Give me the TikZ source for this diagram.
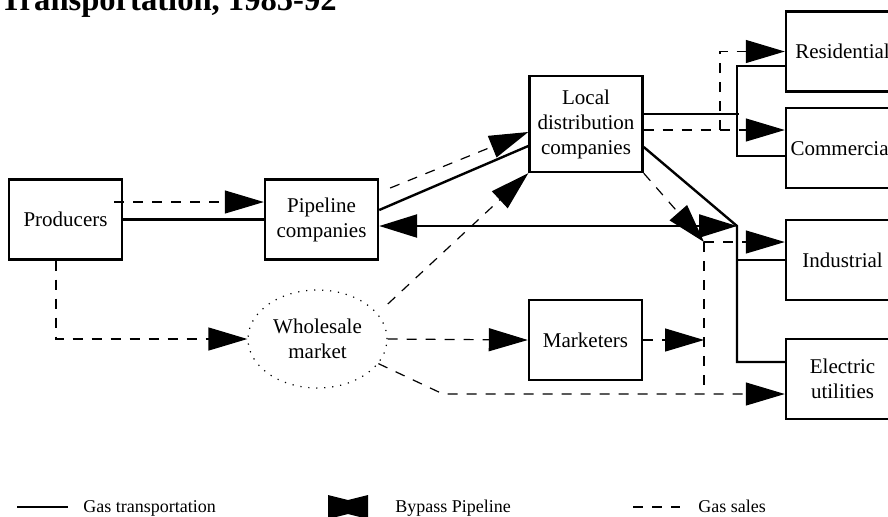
\documentclass[tikz,border=0pt]{standalone}
\usepackage{fontspec}
\setmainfont{Liberation Serif}
\usetikzlibrary{arrows.meta, shapes.geometric}

\tikzset{
  firm/.style={draw, line width=1.2pt, minimum width=56.5pt, minimum height=40pt, inner sep=0pt, align=center, font=\fontsize{10.5}{12.5}\selectfont},
  trans/.style={line width=1.2pt},
  sale/.style={line width=0.6pt, dash pattern=on 5pt off 4.5pt},
  salehead/.style={-{Triangle[length=19.5pt,width=11.5pt]}},
  legtext/.style={anchor=base west, inner sep=0pt, font=\fontsize{9}{11}\selectfont}
}

\begin{document}
\begin{tikzpicture}[x=0.5pt, y=-0.5pt]
\useasboundingbox (0,0) rectangle (888,516);
\node[anchor=base west, inner sep=0pt, font=\fontsize{16.3}{19}\selectfont\bfseries] (title) at (0,10) {Transportation, 1985-92};

\node[firm] (prod) at (65.5,219.5) {Producers};
\node[firm] (pipe) at (321.5,219.5) {Pipeline\\companies};
\node[firm, minimum height=48pt] (ldc) at (586,124) {Local\\distribution\\companies};
\node[draw, ellipse, line width=0.6pt, dash pattern=on 0.6pt off 3.4pt, minimum width=69.5pt, minimum height=49pt, inner sep=0pt, align=center, font=\fontsize{10.5}{12.5}\selectfont] (whole) at (317.5,339) {Wholesale\\market};
\node[firm] (mkt) at (585.5,340) {Marketers};
\node[firm] (res) at (842.5,51.5) {Residential};
\node[firm] (com) at (842.5,148) {Commercial};
\node[firm] (ind) at (842.5,260) {Industrial};
\node[firm] (elec) at (842.5,379) {Electric\\utilities};

\coordinate (jA) at (739,114);
\coordinate (jAtop) at (737,66);
\coordinate (jAbot) at (737,156);
\coordinate (jB) at (737,226);
\coordinate (jBlow) at (737,362);
\coordinate (sA) at (720,130);
\coordinate (sTop) at (704,242);
\coordinate (sM) at (704,340);
\coordinate (sBot) at (704,394);
\coordinate (sW) at (443,394);

\draw[trans] (prod) -- (pipe);
\draw[trans] ([yshift=4.75pt]pipe.east) -- ([yshift=-11pt]ldc.west);
\draw[trans, {Triangle[length=19pt,width=11.5pt]}-{Triangle[length=19pt,width=11.5pt]}] ([yshift=-3.25pt]pipe.east) -- (jB);
\draw[trans] ([yshift=-11.5pt]ldc.east) -- (jB) -- (jBlow) -- ([yshift=8.5pt]elec.west);
\draw[trans] (jB |- ind.west) -- (ind.west);
\draw[trans] ([yshift=-7.25pt]res.west) -- (jAtop) -- (jAbot) -- ([yshift=-4pt]com.west);
\draw[trans] ([yshift=5pt]ldc.east) -- (jA);

\draw[sale, salehead] ([xshift=-4.5pt,yshift=8.75pt]prod.east) -- ([yshift=8.75pt]pipe.west);
\draw[sale, salehead] ([xshift=5.5pt,yshift=15.75pt]pipe.east) -- ([yshift=-4pt]ldc.west);
\draw[sale, salehead, shorten <=7pt] (whole.23) -- (ldc.south west);
\draw[sale, salehead] ([xshift=-4.75pt]prod.south) |- (whole.west);
\draw[sale, salehead] (whole.east) -- (mkt.west);
\draw[sale, salehead] (mkt.east) -- (sM);
\draw[sale] (sTop) -- (sBot);
\draw[sale, salehead] (whole.-22) -- (sW) -- ([yshift=-7.5pt]elec.west);
\draw[sale, salehead] (sTop) -- ([yshift=9pt]ind.west);
\draw[sale, salehead] (ldc.south east) -- (sTop);
\draw[sale, salehead] ([yshift=-3pt]ldc.east) -- ([yshift=9pt]com.west);
\draw[sale, salehead] (sA) |- (res.west);

\draw[trans] (17,507) -- (68,507);
\node[legtext] (legtrans) at (83,512) {Gas transportation};
\fill (328,495) -- (348,500) -- (368,495) -- (368,519) -- (348,514) -- (328,519) -- cycle;
\node[legtext] (legbypass) at (395,512) {Bypass Pipeline};
\draw[sale] (633,507) -- (680,507);
\node[legtext] (legsales) at (698,512) {Gas sales};
\end{tikzpicture}
\end{document}
